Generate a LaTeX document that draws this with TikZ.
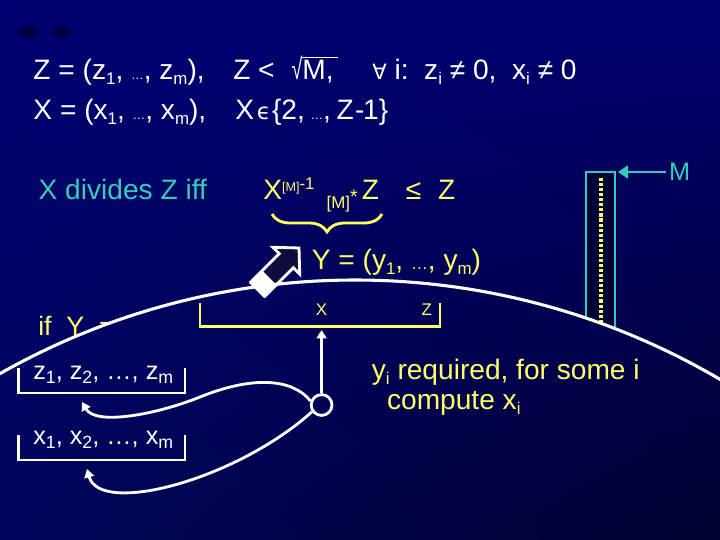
\documentclass[tikz,border=0pt]{standalone}
\usepackage{fontspec}
\usepackage{graphicx}
\setmainfont{Liberation Sans}
\newfontfamily\symf{DejaVu Sans}
\usetikzlibrary{arrows.meta,decorations.pathreplacing,shadings,calc}

\definecolor{navytop}{RGB}{0,0,112}
\definecolor{navyleft}{RGB}{0,6,92}
\definecolor{navybot}{RGB}{0,0,46}
\definecolor{ylw}{RGB}{255,255,102}
\definecolor{tealtxt}{RGB}{51,204,187}
\definecolor{arrowfill}{RGB}{14,14,62}
\definecolor{boxfill}{RGB}{0,0,54}

% small lowered index, narrow dots, root of M
\newcommand{\sbs}[1]{\raisebox{-0.15em}{\scalebox{0.6}{#1}}}
\newcommand{\sbl}[1]{\raisebox{-0.15em}{\scalebox{0.7}{#1}}}
\newcommand{\tdots}{\scalebox{0.45}{…}}
\newsavebox\radbox
\newcommand{\rootM}{\sbox\radbox{\scalebox{0.7}[1.05]{√}}\usebox\radbox\rlap{\rule[\dimexpr\ht\radbox-0.05em\relax]{1.25em}{0.05em}}M}

\tikzset{
  hdr/.style={anchor=base west, inner sep=0pt, text=white, font=\fontsize{20}{24}\selectfont},
  lst/.style={anchor=base west, inner sep=0pt, text=white, font=\fontsize{18}{22}\selectfont},
  ytxt/.style={anchor=base west, inner sep=0pt, text=ylw, font=\fontsize{20}{24}\selectfont},
  ysmall/.style={inner sep=0pt, text=ylw, font=\fontsize{12}{14}\selectfont},
  ttxt/.style={anchor=base west, inner sep=0pt, text=tealtxt, font=\fontsize{20}{24}\selectfont},
  wbracket/.style={draw=white, line width=2pt},
  ybracket/.style={draw=ylw, line width=2pt},
  conn/.style={draw=white, line width=2pt, -{Triangle[width=7pt,length=6pt]}},
  hub/.style={circle, draw=white, line width=2pt, inner sep=0pt, minimum size=0.52cm},
}

\begin{document}
\begin{tikzpicture}
% background
\shade[upper left=navytop, upper right=navytop, lower left=navyleft, lower right=navybot] (0,0) rectangle (18,13.5);
\useasboundingbox (0,0) rectangle (18,13.5);
\coordinate (c) at (8.875,-11.5);

% two dark smudges top left
\fill[navybot, opacity=0.7] (0.7,12.7) ellipse (0.25 and 0.14);
\fill[navybot, opacity=0.7] (1.55,12.7) ellipse (0.25 and 0.14);

% header lines
\node[hdr] (zdef) at (0.83,11.5) {Z = (z\sbs{1}, \tdots, z\sbs{m}),};
\node[hdr] (zbound) at (5.825,11.5) {Z <\hspace{0.6em}\rootM,};
\node[hdr] (forall) at (9.3,11.5) {{\symf\fontsize{15}{18}\selectfont ∀} i:\ \ z\sbs{i} ≠ 0,\ \ x\sbs{i} ≠ 0};
\node[hdr] (xdef) at (0.83,10.5) {X = (x\sbs{1}, \tdots, x\sbs{m}),};
\node[hdr] (xrange) at (5.875,10.5) {X\hspace{0.1em}{\symf\fontsize{16}{20}\selectfont ϵ}\hspace{0.05em}\{2,\hspace{0.2em}\tdots,\hspace{0.2em}Z\hspace{0.05em}-\hspace{-0.05em}1\}};

% divisibility condition
\node[ttxt] (divides) at (0.96,8.52) {X divides Z iff};
\node[ytxt] (cond) at (6.575,8.5) {X\raisebox{0.29em}{\fontsize{9}{9}\selectfont [M]}\raisebox{0.39em}{\fontsize{12}{12}\selectfont -1}\hspace{0.43em}\raisebox{-0.3em}{\fontsize{12}{12}\selectfont [M]}\raisebox{-0.12em}{\fontsize{14}{14}\selectfont *}\hspace{0.15em}Z\hspace{0.95em}≤\hspace{0.6em}Z};
\draw[ylw, line width=2pt, decorate, decoration={brace, mirror, amplitude=0.45cm}] (6.8,8.15) -- (9.55,8.15);
\node[ytxt] (ydef) at (7.79,6.75) {Y = (y\sbs{1}, \scalebox{0.6}{…}, y\sbs{m})};

% hollow arrow
\begin{scope}[shift={(6.45,6.275)}, rotate=45]
  \filldraw[draw=white, fill=arrowfill, line width=2pt] (0,-0.25) -- (1.0,-0.25) -- (1.0,-0.475) -- (1.45,0) -- (1.0,0.475) -- (1.0,0.25) -- (0,0.25) -- cycle;
  \fill[white] (-0.05,-0.27) rectangle (0.4,0.27);
\end{scope}

% parts hidden below the arc
\begin{scope}
  \clip (-0.5,14) -- ($(c)+(121:18)$) arc[start angle=121, end angle=59, radius=18] -- (18.5,14) -- cycle;
  \fill[boxfill] (14.65,5) rectangle (15.375,9.2);
  \draw[tealtxt, line width=2pt] (14.65,5) -- (14.65,9.2) -- (15.375,9.2) -- (15.375,5);
  \draw[ylw, line width=2.2pt, dash pattern=on 2.2pt off 1.4pt] (15.025,9.05) -- (15.025,5);
  \node[ytxt, font=\fontsize{19}{23}\selectfont] (ifY) at (0.95,5.12) {if\ \ Y\ \ =};
\end{scope}

% M marker
\node[anchor=west, inner sep=2pt, text=tealtxt, font=\fontsize{18}{20}\selectfont] (mlabel) at (16.65,9.2) {M};
\coordinate (boxtop) at (15.45,9.2);
\draw[tealtxt, line width=2pt, -{Triangle[width=9pt,length=7pt]}] (mlabel.west) -- (boxtop);

% big arc
\draw[white, line width=2.2pt] ($(c)+(121:18)$) arc[start angle=121, end angle=59, radius=18];

% bracket with X and Z
\draw[ybracket] (5.0,5.925) |- (11.0,5.33) -- (11.0,5.925);
\node[ysmall] (xmark) at (8.04,5.75) {X};
\node[ysmall] (zmark) at (10.67,5.75) {Z};

% lists
\node[lst] (zlist) at (0.825,4.0) {z\sbl{1}, z\sbl{2}, …, z\sbl{m}};
\node[lst] (xlist) at (0.825,2.375) {x\sbl{1}, x\sbl{2}, …, x\sbl{m}};
\draw[wbracket] (0.46,4.3) |- (4.625,3.675) -- (4.625,4.3);
\draw[wbracket] (0.46,2.625) |- (4.625,2.0) -- (4.625,2.625);

% hub and connectors
\node[hub] (hub) at (8.04,3.375) {};
\coordinate (xin) at (8.04,5.25);
\coordinate (zin) at (2.05,3.45);
\coordinate (xout) at (2.175,1.775);
\draw[conn] (hub) -- (xin);
\draw[conn] (hub.160) .. controls (7.3,4.05) and (6.3,4.1) .. (5.0,3.575) .. controls (3.98,3.16) and (2.4,2.84) .. (zin);
\draw[conn] (hub.215) .. controls (5.9,1.5) and (2.5,0.6) .. (xout);

% remark
\node[ytxt] (req) at (9.29,4.0) {y\sbs{i} required, for some i};
\node[ytxt] (comp) at (9.67,3.25) {compute x\sbs{i}};
\end{tikzpicture}
\end{document}
